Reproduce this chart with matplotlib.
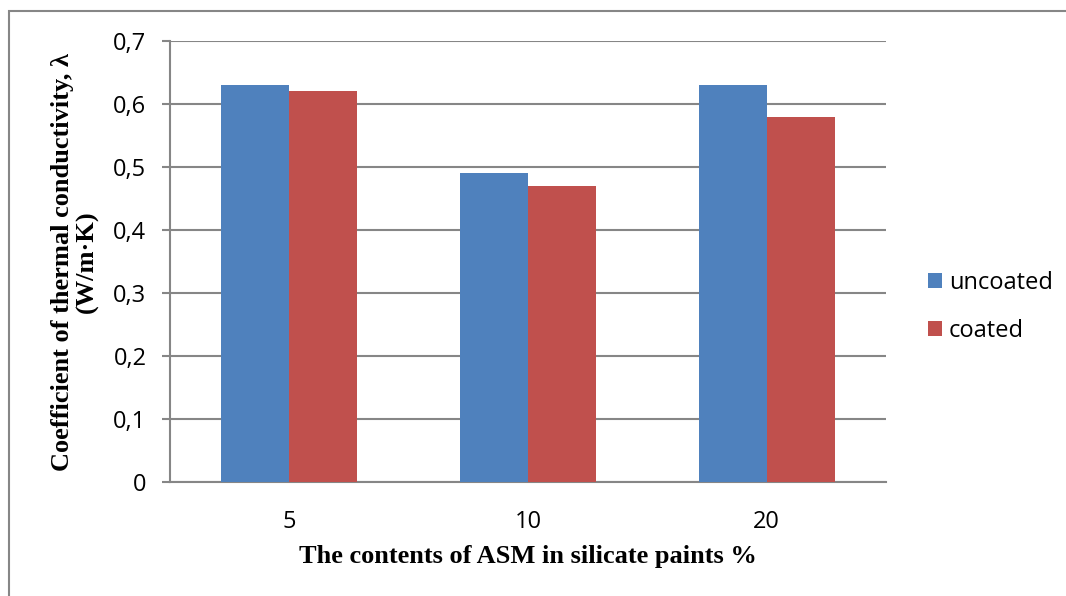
import matplotlib
matplotlib.use("Agg")
import matplotlib.pyplot as plt
from matplotlib.patches import Rectangle
from matplotlib.ticker import FuncFormatter

categories = ["5", "10", "20"]
uncoated = [0.63, 0.49, 0.63]
coated = [0.62, 0.47, 0.58]
yticks = [0, 0.1, 0.2, 0.3, 0.4, 0.5, 0.6, 0.7]

blue = "#4F81BD"
red = "#C0504D"
grey = "#868686"
tickfont = "Open Sans"
W, H = 1066, 596

fig = plt.figure(figsize=(W/100, H/100), dpi=100)
ax = fig.add_axes([170/W, 1-482/H, (886-170)/W, (482-41)/H])

# outer chart border (left/top visible)
fig.patches.append(Rectangle((9/W, -0.1), 1.2, 1-11/H+0.1, transform=fig.transFigure,
                             fill=False, edgecolor=grey, linewidth=1.5))

x = range(len(categories))
w = 0.285
ax.bar([i - w/2 for i in x], uncoated, w, color=blue, label="uncoated", zorder=3)
ax.bar([i + w/2 for i in x], coated, w, color=red, label="coated", zorder=3)

ax.set_xlim(-0.5, 2.5)
ax.set_ylim(0, 0.7)
ax.set_yticks(yticks)
ax.yaxis.set_major_formatter(FuncFormatter(lambda v, p: ("%g" % round(v, 1)).replace(".", ",")))
ax.set_xticks(list(x))
ax.set_xticklabels(categories)
ax.grid(axis="y", color=grey, linewidth=1.5, zorder=0)
for s in ["top", "right"]:
    ax.spines[s].set_visible(False)
for s in ["left", "bottom"]:
    ax.spines[s].set_color(grey)
    ax.spines[s].set_linewidth(1.5)
ax.tick_params(axis="y", length=6, width=1.5, color=grey, labelsize=17, pad=11)
ax.tick_params(axis="x", length=0, labelsize=17, pad=20)
for t in ax.get_xticklabels() + ax.get_yticklabels():
    t.set_fontfamily(tickfont)

fig.text(528/W, 1-557/H, "The contents of ASM in silicate paints %", family="Liberation Serif",
         weight="bold", size=19, ha="center", va="center")
fig.text(75/W, 1-262/H, "Coefficient of thermal conductivity, λ\n(W/m·K)", family="Liberation Serif",
         weight="bold", size=19, ha="center", va="center", rotation=90, linespacing=1.05,
         multialignment="center")

ax.legend(loc="center left", bbox_to_anchor=(1.045, 0.397), frameon=False,
          prop={"family": tickfont, "size": 17}, handlelength=0.6, handleheight=0.6,
          handletextpad=0.3, labelspacing=1.05, borderaxespad=0)

fig.savefig("out.png", dpi=100)
